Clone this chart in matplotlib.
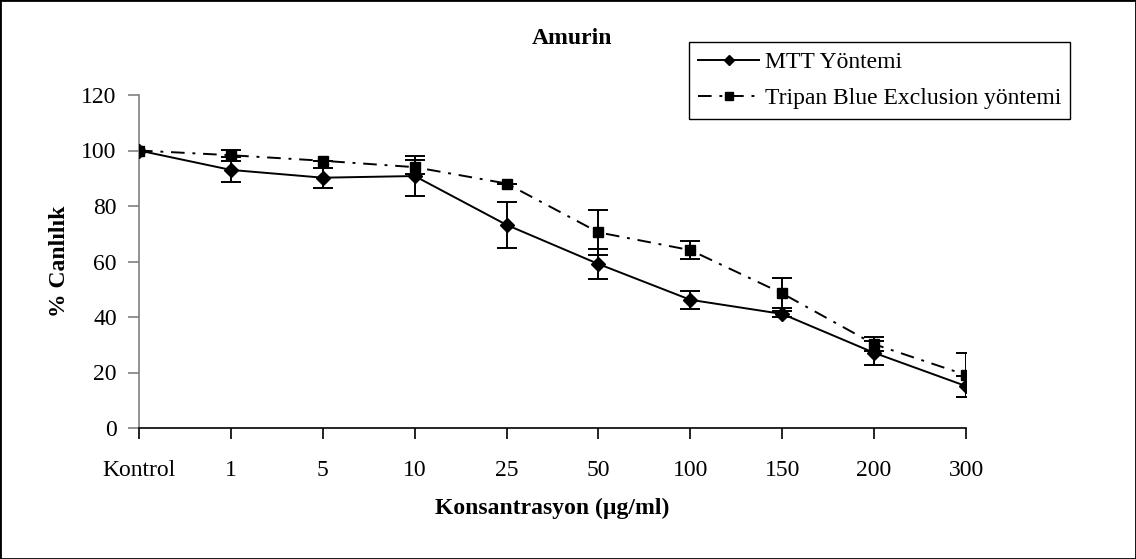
import matplotlib
matplotlib.use("Agg")
import matplotlib.pyplot as plt
import numpy as np
from matplotlib.patches import Rectangle

plt.rcParams['font.family'] = ['Liberation Serif', 'DejaVu Serif']

# concentrations (category axis)
doses = ['Kontrol', '1', '5', '10', '25', '50', '100', '150', '200', '300']

# % viability
mtt_vals = [100, 93.0, 90.2, 90.8, 73.2, 59.1, 46.2, 41.1, 27.1, 15.1]
mtt_err = [0, 4.5, 3.6, 7.1, 8.4, 5.3, 3.2, 1.1, 4.4, 3.8]

tripan_vals = [100, 98.3, 96.3, 94.0, 88.1, 70.5, 64.1, 48.5, 30.2, 19.1]
tripan_err = [0, 2.0, 0.0, 2.6, 0.0, 8.1, 3.3, 5.4, 2.5, 7.8]

fig = plt.figure(figsize=(11.36, 5.59), dpi=100)
ax = fig.add_axes([139 / 1136, 1 - 428 / 559, (966 - 139) / 1136, (428 - 95) / 559])

x = np.arange(len(doses))
dashdot = (0, (7, 4, 1.5, 4))

# error bars first, then the lines that go into the legend
ax.errorbar(x, mtt_vals, yerr=mtt_err, fmt='none', ecolor='black', elinewidth=1.4,
            capsize=7, capthick=1.4, zorder=2)
ax.errorbar(x, tripan_vals, yerr=tripan_err, fmt='none', ecolor='black', elinewidth=1.4,
            capsize=7, capthick=1.4, zorder=2)
l1, = ax.plot(x, mtt_vals, color='black', linestyle='-', linewidth=1.4, marker='D',
              markersize=7, label='MTT Yöntemi', zorder=3)
l2, = ax.plot(x, tripan_vals, color='black', linestyle=dashdot, linewidth=1.4, marker='s',
              markersize=7.5, label='Tripan Blue Exclusion yöntemi', zorder=3)

ax.set_xlim(0, len(doses) - 1)
ax.set_ylim(0, 120)
ax.set_yticks(np.arange(0, 121, 20))
ax.set_xticks(x)
ax.set_xticklabels(doses)

ax.spines['top'].set_visible(False)
ax.spines['right'].set_visible(False)
ax.spines['left'].set_color('#808080')
ax.spines['left'].set_linewidth(1.2)
ax.spines['bottom'].set_color('black')
ax.spines['bottom'].set_linewidth(1.2)

ax.tick_params(axis='y', labelsize=17, length=8, width=1.2, pad=8, color='#808080')
ax.tick_params(axis='x', labelsize=17, length=8, width=1.2, pad=15)

ax.set_ylabel('% Canlılık', fontsize=17, fontweight='bold', labelpad=8)
ax.set_xlabel('Konsantrasyon (µg/ml)', fontsize=17, fontweight='bold', labelpad=12)

fig.text(572 / 1136, 1 - 39 / 559, 'Amurin', fontsize=17, fontweight='bold',
         ha='center', va='center')

leg = ax.legend(handles=[l1, l2], loc='upper left', bbox_to_anchor=(689 / 1136, 1 - 42 / 559),
                bbox_transform=fig.transFigure, fontsize=17, frameon=True,
                fancybox=False, framealpha=1, edgecolor='black', handlelength=2.55,
                handletextpad=0.25, borderpad=0.4, labelspacing=0.62, borderaxespad=0,
                markerscale=0.75)
leg.get_frame().set_linewidth(1.0)

fig.patches.append(Rectangle((0, 0), 1, 1, transform=fig.transFigure, fill=False,
                             edgecolor='black', linewidth=2))

fig.savefig('out.png', dpi=100)
